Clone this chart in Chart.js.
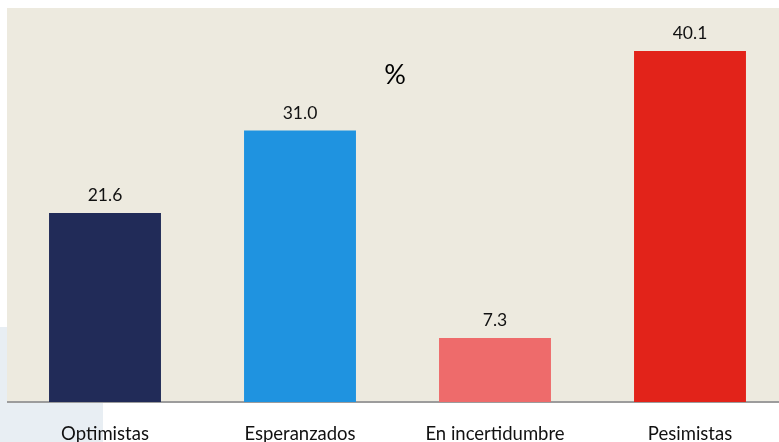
<!DOCTYPE html>
<html>
<head>
<meta charset="utf-8">
<script src="https://cdn.jsdelivr.net/npm/chart.js@4/dist/chart.umd.min.js"></script>
<style>
  html, body { margin: 0; padding: 0; background: #ffffff; overflow: hidden; }
  #wrap { width: 790px; height: 442px; position: relative; }
</style>
</head>
<body>
<div id="wrap"><canvas id="c" width="790" height="442"></canvas></div>
<script>
const categories = ["Optimistas", "Esperanzados", "En incertidumbre", "Pesimistas"];
const values = [21.6, 31.0, 7.3, 40.1];
const barColors = ["#212B58", "#1F93E0", "#EE6B6B", "#E2231A"];
const unitLabel = "%";

const bgPlugin = {
  id: "bg",
  beforeDraw(chart) {
    const ctx = chart.ctx, a = chart.chartArea;
    ctx.save();
    ctx.fillStyle = "#E8EEF3";
    ctx.fillRect(0, 327, 103, 442 - 327);
    ctx.fillStyle = "#EDEADF";
    ctx.fillRect(a.left - 0.5, a.top, a.right - a.left, a.bottom - a.top);
    ctx.restore();
  }
};

const labelPlugin = {
  id: "vals",
  afterDatasetsDraw(chart) {
    const ctx = chart.ctx;
    const meta = chart.getDatasetMeta(0);
    ctx.save();
    ctx.font = "17.5px Lato, 'Open Sans', sans-serif";
    ctx.fillStyle = "#111111";
    ctx.textAlign = "center";
    ctx.textBaseline = "alphabetic";
    meta.data.forEach((bar, i) => {
      ctx.fillText(values[i].toFixed(1), bar.x, bar.y - 12);
    });
    ctx.font = "27px Lato, 'Open Sans', sans-serif";
    ctx.fillStyle = "#000000";
    ctx.fillText(unitLabel, 395, 84);
    ctx.restore();
  }
};

new Chart(document.getElementById("c"), {
  type: "bar",
  data: {
    labels: categories,
    datasets: [{
      data: values,
      backgroundColor: barColors,
      borderWidth: 0,
      barPercentage: 0.574,
      categoryPercentage: 1.0
    }]
  },
  options: {
    responsive: false,
    animation: false,
    devicePixelRatio: 1,
    layout: { padding: { left: 7.5, right: 2.5, top: 8, bottom: 0 } },
    plugins: { legend: { display: false }, tooltip: { enabled: false } },
    scales: {
      y: { display: false, min: 0, max: 45 },
      x: {
        afterFit(scale) { scale.height = 40; },
        grid: { display: false, drawTicks: false },
        border: { display: true, color: "#9C9C9C", width: 2 },
        ticks: {
          padding: 21,
          color: "#111111",
          font: { family: "Lato, 'Open Sans', sans-serif", size: 18.5 }
        }
      }
    }
  },
  plugins: [bgPlugin, labelPlugin]
});
</script>
</body>
</html>
